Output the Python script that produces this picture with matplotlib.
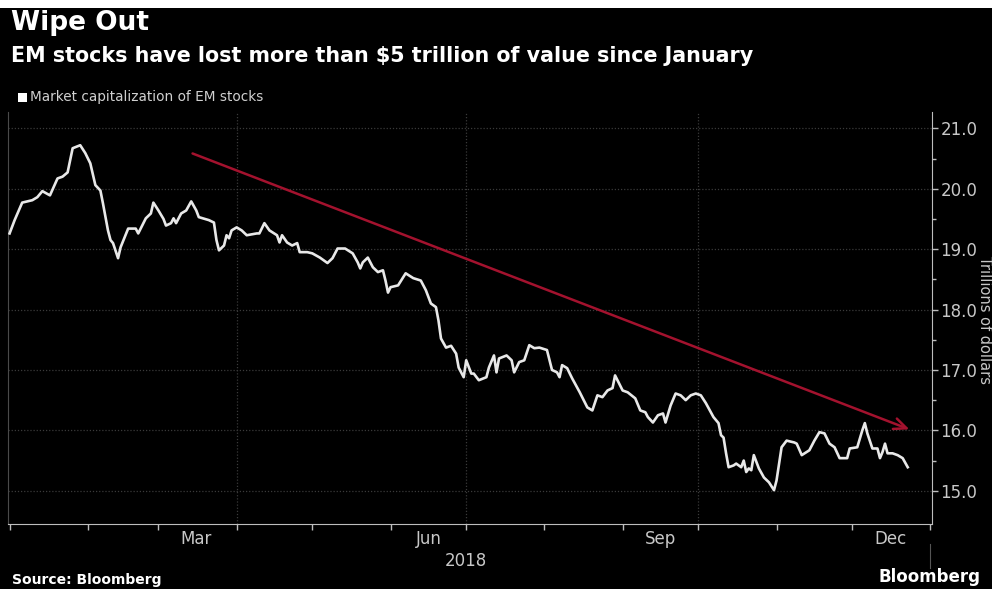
import matplotlib
matplotlib.use("Agg")
import matplotlib.pyplot as plt
import pandas as pd
from matplotlib.patches import Rectangle
from matplotlib.lines import Line2D

# Market capitalization of EM stocks, trillions of dollars (2018)
days_since_jan1 = [
    0, 2, 5, 9, 11, 13, 16, 19, 21, 23, 25, 28, 30, 32, 34, 36, 37, 39, 40, 41,
    43, 44, 47, 50, 51, 54, 56, 57, 59, 61, 62, 64, 65, 66, 67, 68, 70, 72, 74, 75,
    79, 81, 82, 83, 85, 86, 87, 88, 90, 92, 94, 98, 99, 101, 103, 106, 107, 108, 110, 112,
    114, 115, 118, 120, 123, 126, 128, 130, 133, 136, 138, 139, 140, 142, 144, 146, 148, 149, 150, 151,
    154, 157, 160, 163, 165, 167, 169, 170, 171, 173, 175, 177, 178, 180, 181, 183, 184, 186, 189, 190,
    192, 193, 194, 197, 199, 200, 202, 204, 206, 208, 210, 213, 215, 217, 218, 219, 221, 223, 226, 229,
    231, 233, 235, 237, 239, 240, 243, 245, 248, 250, 252, 253, 255, 257, 259, 260, 262, 264, 266, 268,
    270, 272, 274, 276, 279, 281, 282, 283, 284, 285, 287, 288, 290, 291, 292, 293, 294, 295, 297, 299,
    301, 303, 304, 306, 308, 311, 312, 314, 317, 319, 321, 323, 325, 327, 329, 332, 333, 336, 338, 339,
    340, 342, 344, 345, 346, 347, 348, 350, 352, 354, 356,
]
market_cap = [
    19.26, 19.48, 19.77, 19.81, 19.86, 19.96, 19.89, 20.17, 20.20, 20.27, 20.67, 20.72, 20.59, 20.42, 20.06, 19.97, 19.76, 19.31, 19.15, 19.10,
    18.85, 19.03, 19.34, 19.34, 19.26, 19.51, 19.59, 19.77, 19.64, 19.50, 19.39, 19.43, 19.51, 19.43, 19.51, 19.59, 19.64, 19.79, 19.64, 19.53,
    19.48, 19.44, 19.15, 18.98, 19.06, 19.23, 19.18, 19.31, 19.36, 19.31, 19.23, 19.26, 19.26, 19.43, 19.31, 19.23, 19.11, 19.23, 19.11, 19.06,
    19.10, 18.95, 18.95, 18.93, 18.86, 18.77, 18.85, 19.01, 19.01, 18.93, 18.78, 18.68, 18.78, 18.86, 18.70, 18.62, 18.65, 18.48, 18.28, 18.37,
    18.40, 18.60, 18.52, 18.48, 18.32, 18.10, 18.04, 17.82, 17.52, 17.37, 17.40, 17.27, 17.04, 16.88, 17.16, 16.94, 16.94, 16.83, 16.88, 17.04,
    17.24, 16.96, 17.19, 17.24, 17.16, 16.96, 17.13, 17.16, 17.41, 17.36, 17.37, 17.33, 17.00, 16.96, 16.88, 17.08, 17.03, 16.86, 16.63, 16.38,
    16.33, 16.58, 16.55, 16.66, 16.70, 16.91, 16.66, 16.63, 16.53, 16.33, 16.30, 16.22, 16.13, 16.25, 16.28, 16.13, 16.41, 16.61, 16.58, 16.50,
    16.58, 16.61, 16.58, 16.45, 16.22, 16.12, 15.92, 15.88, 15.62, 15.39, 15.42, 15.45, 15.39, 15.50, 15.31, 15.37, 15.34, 15.59, 15.37, 15.22,
    15.14, 15.01, 15.17, 15.72, 15.83, 15.80, 15.78, 15.59, 15.67, 15.83, 15.97, 15.95, 15.78, 15.72, 15.54, 15.54, 15.70, 15.72, 16.00, 16.12,
    15.95, 15.70, 15.70, 15.54, 15.64, 15.78, 15.62, 15.62, 15.59, 15.54, 15.39,
]

# Trend arrow: (days since Jan 1, value) for tail and head
trend_days = [71.5, 357.7]
trend_values = [20.60, 16.00]

y_ticks = [15.0, 16.0, 17.0, 18.0, 19.0, 20.0, 21.0]
month_labels = ["Mar", "Jun", "Sep", "Dec"]
month_label_dates = ["2018-03-16", "2018-06-16", "2018-09-16", "2018-12-16"]
year_label = "2018"

start = pd.Timestamp("2018-01-01")
dates = start + pd.to_timedelta(days_since_jan1, unit="D")
arrow_dates = start + pd.to_timedelta(trend_days, unit="D")

W, H = 992, 589
fig = plt.figure(figsize=(W / 100, H / 100), dpi=100, facecolor="white")

# black panel with a thin white rim at the top
fig.patches.append(Rectangle((0, 0), 1, (H - 8) / H, transform=fig.transFigure,
                             facecolor="black", edgecolor="none", zorder=-10))

ax = fig.add_axes([8 / W, (H - 524) / H, (932 - 8) / W, (524 - 112) / H])
ax.set_facecolor("black")

grid_c = "#3a3a3a"
axis_c = "#bdbdbd"
text_c = "#c8c8c8"

ax.plot(dates, market_cap, color="#e8e8e8", lw=1.9, solid_joinstyle="round", zorder=3)

ax.annotate("", xy=(arrow_dates[1], trend_values[1]), xytext=(arrow_dates[0], trend_values[0]),
            arrowprops=dict(arrowstyle="->,head_length=0.9,head_width=0.4",
                            color="#a3122e", lw=1.8), zorder=4)

ax.set_xlim(pd.Timestamp("2017-12-31 09:00"), pd.Timestamp("2019-01-01 15:00"))
ax.set_ylim(14.45, 21.27)

# y axis on the right
ax.yaxis.tick_right()
ax.set_yticks(y_ticks)
ax.set_yticklabels([f"{v:.1f}" for v in y_ticks])
ax.set_yticks([v + 0.5 for v in y_ticks[:-1]], minor=True)
ax.tick_params(axis="y", which="major", direction="out", length=4, width=1,
               color=axis_c, labelcolor=text_c, labelsize=12, pad=2)
ax.tick_params(axis="y", which="minor", direction="out", length=3, width=1, color=axis_c)

# x axis: month ticks, labels mid-month
month_starts = pd.date_range("2018-01-01", "2019-01-01", freq="MS")
ax.set_xticks(month_starts)
ax.set_xticklabels([])
ax.set_xticks(pd.to_datetime(month_label_dates), minor=True)
ax.set_xticklabels(month_labels, minor=True)
ax.tick_params(axis="x", which="major", direction="out", length=4, width=1, color=axis_c)
ax.tick_params(axis="x", which="minor", length=0, labelcolor=text_c, labelsize=12, pad=4)

# grid
for y in y_ticks:
    ax.axhline(y, color=grid_c, lw=0.9, ls=(0, (1, 1.5)), zorder=1)
for d in ["2018-04-01", "2018-07-01", "2018-10-01"]:
    ax.axvline(pd.Timestamp(d), color=grid_c, lw=0.9, ls=(0, (1, 1.5)), zorder=1)

ax.spines["top"].set_visible(False)
ax.spines["right"].set_color(axis_c)
ax.spines["bottom"].set_color(axis_c)
ax.spines["left"].set_color("#4a4a4a")
ax.spines["left"].set_linewidth(0.8)

# year label and year divider
ax.text(pd.Timestamp("2018-07-01"), -0.068, year_label, transform=ax.get_xaxis_transform(),
        ha="center", va="top", color=text_c, fontsize=12)
fig.add_artist(Line2D([930 / W, 930 / W], [(H - 544) / H, (H - 568) / H],
                      color="#555555", lw=0.8))

# titles and legend
fig.text(11 / W, (H - 10) / H, "Wipe Out", color="white", fontsize=19,
         fontweight="bold", ha="left", va="top")
fig.text(11 / W, (H - 46) / H, "EM stocks have lost more than $5 trillion of value since January",
         color="white", fontsize=14.9, fontweight="bold", ha="left", va="top")
fig.patches.append(Rectangle((18 / W, (H - 102) / H), 9 / W, 9 / H, transform=fig.transFigure,
                             facecolor="white", edgecolor="none"))
fig.text(30 / W, (H - 97) / H, "Market capitalization of EM stocks", color="#d0d0d0",
         fontsize=9.8, ha="left", va="center")

# axis title on the right, beside the tick labels
fig.text(985 / W, (H - 320) / H, "Trillions of dollars", color=text_c, fontsize=10.5,
         rotation=-90, ha="center", va="center")

# footer
fig.text(12 / W, (H - 587) / H, "Source: Bloomberg", color="white", fontsize=10,
         fontweight="bold", ha="left", va="bottom")
fig.text(878 / W, (H - 586) / H, "Bloomberg", color="white", fontsize=12,
         fontweight="bold", ha="left", va="bottom")

fig.savefig("out.png", dpi=100, facecolor=fig.get_facecolor())
